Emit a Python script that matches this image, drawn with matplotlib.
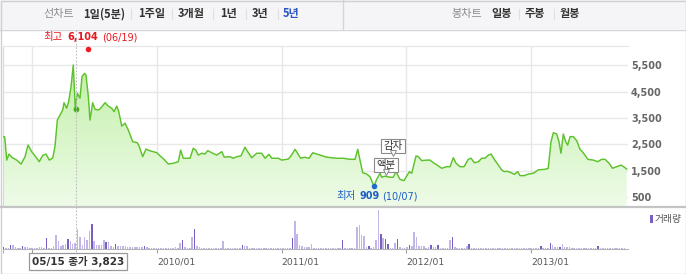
import matplotlib
matplotlib.use('Agg')
import matplotlib.pyplot as plt
import numpy as np
from matplotlib.colors import LinearSegmentedColormap
from matplotlib.patches import Rectangle
from matplotlib.transforms import offset_copy

plt.rcParams['font.family'] = ['DejaVu Sans', 'Noto Sans CJK KR']
KR = ['Noto Sans CJK KR', 'DejaVu Sans']

# ---- data (x in decimal years) ----
price_years = [
    2008.762, 2008.778, 2008.794, 2008.812, 2008.834, 2008.874, 2008.909, 2008.941, 2008.965, 2008.994,
    2009.021, 2009.055, 2009.083, 2009.109, 2009.136, 2009.163, 2009.181, 2009.200, 2009.222, 2009.243,
    2009.254, 2009.275, 2009.291, 2009.310, 2009.328, 2009.344, 2009.360, 2009.382, 2009.398, 2009.417,
    2009.430, 2009.449, 2009.462, 2009.484, 2009.502, 2009.529, 2009.548, 2009.583, 2009.609, 2009.636,
    2009.655, 2009.677, 2009.693, 2009.717, 2009.743, 2009.770, 2009.805, 2009.842, 2009.858, 2009.885,
    2009.912, 2009.938, 2009.970, 2009.998, 2010.018, 2010.056, 2010.091, 2010.131, 2010.171, 2010.190,
    2010.211, 2010.265, 2010.291, 2010.311, 2010.331, 2010.359, 2010.385, 2010.407, 2010.439, 2010.479,
    2010.519, 2010.540, 2010.586, 2010.612, 2010.640, 2010.674, 2010.706, 2010.728, 2010.760, 2010.800,
    2010.840, 2010.867, 2010.899, 2010.921, 2010.974, 2011.001, 2011.054, 2011.075, 2011.108, 2011.153,
    2011.182, 2011.220, 2011.250, 2011.308, 2011.362, 2011.442, 2011.495, 2011.549, 2011.589, 2011.611,
    2011.629, 2011.651, 2011.683, 2011.709, 2011.742, 2011.763, 2011.790, 2011.803, 2011.830, 2011.870,
    2011.896, 2011.918, 2011.950, 2011.982, 2012.009, 2012.025, 2012.044, 2012.079, 2012.097, 2012.124,
    2012.165, 2012.191, 2012.218, 2012.245, 2012.285, 2012.325, 2012.352, 2012.378, 2012.400, 2012.432,
    2012.464, 2012.498, 2012.520, 2012.547, 2012.579, 2012.606, 2012.632, 2012.659, 2012.681, 2012.707,
    2012.739, 2012.766, 2012.787, 2012.807, 2012.833, 2012.868, 2012.895, 2012.913, 2012.948, 2012.980,
    2013.020, 2013.060, 2013.114, 2013.140, 2013.162, 2013.181, 2013.208, 2013.226, 2013.242, 2013.261,
    2013.280, 2013.296, 2013.315, 2013.341, 2013.368, 2013.395, 2013.421, 2013.457, 2013.502, 2013.537,
    2013.569, 2013.596, 2013.628, 2013.655, 2013.690, 2013.724, 2013.751, 2013.769]
price_vals = [
    2790, 2780, 1900, 2130, 2010, 1900, 1750, 2030, 2470, 2220,
    2060, 1840, 2080, 2130, 1900, 1980, 2410, 3420, 3610, 3800,
    4080, 3870, 4120, 4690, 5510, 3870, 4440, 4250, 5070, 5190,
    5130, 4310, 3420, 4080, 3830, 3800, 3870, 4080, 3950, 3870,
    3740, 3950, 3740, 3190, 3300, 3040, 2600, 2560, 2410, 2030,
    2320, 2260, 2220, 2180, 2090, 1930, 1750, 1780, 1840, 2280,
    1970, 1970, 2350, 2280, 2090, 2160, 2130, 2260, 2180, 2090,
    2220, 2010, 2030, 1970, 2030, 2060, 2390, 2220, 1990, 2160,
    2160, 1970, 2120, 1970, 1970, 1900, 1940, 2060, 2310, 1970,
    2010, 1970, 2180, 2090, 2010, 1970, 1970, 1930, 1930, 2310,
    1900, 1420, 1370, 1270, 909, 1170, 1400, 1250, 1290, 1250,
    1250, 1460, 1170, 1120, 1330, 1460, 1400, 2060, 2030, 1880,
    1900, 1900, 1800, 1720, 1590, 1650, 1650, 1990, 1780, 1650,
    1650, 1930, 1970, 1800, 1840, 1970, 1970, 2090, 2130, 1930,
    1710, 1530, 1460, 1480, 1440, 1360, 1460, 1310, 1310, 1370,
    1400, 1530, 1550, 1590, 2600, 2940, 2890, 2600, 2160, 2890,
    2600, 2470, 2790, 2790, 2640, 2310, 2180, 1930, 1900, 1840,
    1930, 1930, 1780, 1590, 1650, 1710, 1630, 1560]

# weekly volume (thousand shares), first week starts 2008.768
vol_start = 2008.768
vol_vals = [
    500, 330, 330, 930, 930, 500, 250, 330, 680, 500, 500, 180, 180, 180, 250, 430, 500, 250, 2830, 250,
    330, 680, 3580, 1930, 680, 930, 1330, 2580, 1930, 1330, 1580, 5080, 3000, 1080, 3000, 2180, 4430, 6330, 1930, 930,
    930, 930, 2180, 1750, 1750, 750, 500, 1330, 750, 750, 750, 680, 580, 580, 580, 500, 500, 430, 500, 680,
    500, 330, 250, 250, 250, 250, 250, 180, 250, 180, 250, 250, 430, 250, 1500, 2250, 500, 250, 250, 2930,
    5080, 750, 500, 330, 330, 250, 250, 250, 250, 250, 330, 330, 1930, 250, 250, 250, 250, 250, 250, 330,
    930, 750, 750, 330, 250, 250, 250, 250, 250, 180, 250, 250, 250, 250, 250, 180, 250, 250, 250, 250,
    330, 2830, 6930, 3750, 930, 750, 580, 580, 580, 1180, 330, 330, 250, 250, 250, 250, 250, 250, 250, 330,
    250, 250, 2180, 250, 250, 250, 250, 330, 5500, 6080, 3430, 3180, 500, 750, 330, 430, 2250, 9680, 3830, 2830,
    2580, 1180, 250, 180, 1580, 2580, 500, 250, 250, 500, 1080, 750, 4250, 3080, 830, 830, 680, 330, 430, 930,
    580, 500, 930, 250, 250, 250, 250, 2250, 3000, 430, 250, 250, 250, 250, 680, 1180, 250, 180, 180, 250,
    180, 180, 180, 250, 180, 180, 180, 180, 250, 180, 180, 180, 180, 180, 180, 250, 180, 180, 180, 180,
    180, 250, 180, 180, 180, 750, 250, 180, 250, 1430, 930, 430, 500, 580, 1330, 500, 430, 500, 250, 250,
    180, 250, 180, 180, 250, 180, 180, 180, 250, 750, 180, 180, 180, 180, 180, 180, 180, 180, 180, 180, 180]
vol_dark = [0, 3, 8, 18, 27, 37, 43, 47, 59, 75, 80, 100, 121, 142, 153, 158, 160, 161,
            165, 170, 179, 182, 188, 195, 225, 229, 233, 249]

year_ticks = [2009, 2010, 2011, 2012, 2013]
year_labels = ['', '2010/01', '2011/01', '2012/01', '2013/01']  # 2009/01 sits under the close box
price_ticks = [500, 1500, 2500, 3500, 4500, 5500]

hi_year, hi_price, hi_date = 2009.446, 6104, '(06/19)'
lo_year, lo_price, lo_date = 2011.742, 909, '(10/07)'
close_year, close_price, close_date = 2009.350, 3823, '05/15'
event_years = [2011.894, 2011.838]
event_vals = [2060, 1330]
event_names = ['감자', '액분']

tabs_left = ['1일(5분)', '1주일', '3개월', '1년', '3년', '5년']
tabs_left_x = [83, 138, 178, 220, 252, 283]
tabs_right = ['일봉', '주봉', '월봉']
tabs_right_x = [491, 525, 560]

# ---- layout ----
W, H = 686, 274
x0, x1 = 2008.764, 2013.780
y0, y1 = 158, 6242

fig = plt.figure(figsize=(W / 100, H / 100), dpi=100)
bg = fig.add_axes([0, 0, 1, 1], zorder=0)
bg.set_xlim(0, W); bg.set_ylim(H, 0); bg.axis('off')

ax = fig.add_axes([3 / W, (H - 206) / H, 625 / W, 160.3 / H], zorder=1)
axv = fig.add_axes([3 / W, (H - 249) / H, 625 / W, 41 / H], zorder=1)
top = fig.add_axes([0, 0, 1, 1], zorder=5)
top.set_xlim(0, W); top.set_ylim(H, 0); top.axis('off')

# tab bar
bg.add_patch(Rectangle((0, 0), W, 29, fc='#f5f5f7', ec='none'))
bg.plot([0, W], [29.5, 29.5], color='#d6d6da', lw=1)
bg.plot([342.5, 342.5], [0, 29], color='#d6d6da', lw=1)
bg.text(43, 14, '선차트', family=KR, fontsize=8, color='#8c8c8c', va='center')
bg.text(451, 14, '봉차트', family=KR, fontsize=8, color='#8c8c8c', va='center')
for lab, xp in zip(tabs_left, tabs_left_x):
    c = '#2b55c0' if lab == '5년' else '#333333'
    bg.text(xp, 14, lab, family=KR, fontsize=8, fontweight='bold', color=c, va='center')
for lab, xp in zip(tabs_right, tabs_right_x):
    bg.text(xp, 14, lab, family=KR, fontsize=8, fontweight='bold', color='#333333', va='center')
for xs in [130.5, 171.5, 212.5, 245.5, 277.5, 518.5, 553.5]:
    bg.plot([xs, xs], [9, 19], color='#e0e0e0', lw=0.8)

# price panel
ax.plot(price_years, price_vals, color='#5ec22c', lw=1.05, zorder=4)
poly = ax.fill_between(price_years, price_vals, y0, color='none', lw=0)
cmap = LinearSegmentedColormap.from_list('g', ['#eefbe8', '#bceea0'])
grad = np.linspace(0, 1, 256).reshape(-1, 1)
im = ax.imshow(grad, extent=[x0, x1, y0, y1], origin='lower', aspect='auto',
               cmap=cmap, zorder=2)
im.set_clip_path(poly.get_paths()[0], transform=ax.transData)
ax.set_xlim(x0, x1); ax.set_ylim(y0, y1)
ax.set_xticks(year_ticks)
ax.set_yticks(price_ticks)
ax.set_yticklabels([f'{v:,}' for v in price_ticks], fontweight='bold')
ax.yaxis.tick_right()
ax.tick_params(axis='y', length=0, pad=2.2, labelsize=7, labelcolor='#666666')
ax.tick_params(axis='x', length=0, labelbottom=False)
ax.grid(color='#e8e8e8', lw=1, zorder=1)
ax.set_axisbelow(True)
for s in ['right', 'bottom']:
    ax.spines[s].set_visible(False)
ax.spines['top'].set_color('#e6e6e6')
ax.spines['left'].set_color('#dadada')

# markers and labels
ax.plot(hi_year, hi_price, 'o', color='#ee1c24', ms=4, mec='none', zorder=6, clip_on=False)
ax.plot(lo_year, lo_price, 'o', color='#1f6ad2', ms=4, mec='none', zorder=6)
ax.plot(close_year, close_price, 'o', color='#46ad1c', ms=4.2, mec='none', zorder=6)

red = '#e8161e'
ax.annotate('최고', (hi_year, hi_price), xytext=(-45, 12), textcoords='offset pixels',
            family=KR, fontsize=7.5, color=red, va='center', annotation_clip=False)
ax.annotate(f'{hi_price:,}', (hi_year, hi_price), xytext=(-21, 12), textcoords='offset pixels',
            fontsize=7, fontweight='bold', color=red, va='center', annotation_clip=False)
ax.annotate(hi_date, (hi_year, hi_price), xytext=(14, 12), textcoords='offset pixels',
            fontsize=7, color=red, va='center', annotation_clip=False)
blue = '#1d5fc6'
ax.annotate('최저', (lo_year, lo_price), xytext=(-38, -10), textcoords='offset pixels',
            family=KR, fontsize=7.5, color=blue, va='center')
ax.annotate(f'{lo_price:,}', (lo_year, lo_price), xytext=(-15, -10), textcoords='offset pixels',
            fontsize=7, fontweight='bold', color=blue, va='center')
ax.annotate(lo_date, (lo_year, lo_price), xytext=(8, -10), textcoords='offset pixels',
            fontsize=7, color=blue, va='center')

tr = offset_copy(ax.transData, fig=fig, x=0, y=3, units='dots')
for ey, ev, name in zip(event_years, event_vals, event_names):
    ax.annotate(name, (ey, ev), xytext=(0, 5), textcoords='offset pixels',
                family=KR, fontsize=7.5, color='#333333', ha='center', va='bottom', zorder=7,
                bbox=dict(boxstyle='square,pad=0.2', fc='white', ec='#8a8a8a', lw=0.8))
    ax.plot(ey, ev, marker='v', ms=4, mfc='white', mec='#8a8a8a', mew=0.7,
            transform=tr, zorder=8)

# volume panel
cols = ['#7a5fc2' if i in vol_dark else '#c2b5e8' for i in range(len(vol_vals))]
vol_x = [vol_start + i * 7 / 365.25 for i in range(len(vol_vals))]
axv.bar(vol_x, vol_vals, width=0.012, color=cols, lw=0)
axv.set_xlim(x0, x1); axv.set_ylim(0, 10250)
axv.set_yticks([])
for s in ['top', 'left', 'right']:
    axv.spines[s].set_visible(False)
axv.spines['bottom'].set_color('#b4b4b4')
axv.set_xticks(year_ticks)
axv.set_xticklabels(year_labels)
axv.set_xticks([x0], minor=True)
axv.tick_params(axis='x', which='both', direction='out', length=3, color='#a0a0a0',
                labelsize=6.6, labelcolor='#555555', pad=3)
for lbl in axv.get_xticklabels():
    lbl.set_ha('left')

# legend
top.add_patch(Rectangle((650, 215), 3, 8, fc='#7a5fc2', ec='none'))
top.text(655, 219, '거래량', family=KR, fontsize=7, color='#555555', va='center')

# panel separator and frame
top.plot([0, W], [207, 207], color='#c4c4c4', lw=1.6)
top.add_patch(Rectangle((0.5, 0.5), W - 1, H - 1, fc='none', ec='#d0d0d0', lw=1))

# selected day: dashed guide and close label
fig.canvas.draw()
cx = ax.transData.transform((close_year, close_price))[0]
top.plot([cx, cx], [30, 253], color='#bdbdbd', lw=0.8, ls=(0, (1.5, 1.5)))
top.text(cx + 2, 261.5, f'{close_date} 종가 {close_price:,}', fontsize=7.5, fontweight='bold',
         color='#333333', ha='center', va='center',
         bbox=dict(boxstyle='square,pad=0.25', fc='white', ec='#9a9a9a', lw=0.9))

fig.savefig('out.png', dpi=100)
